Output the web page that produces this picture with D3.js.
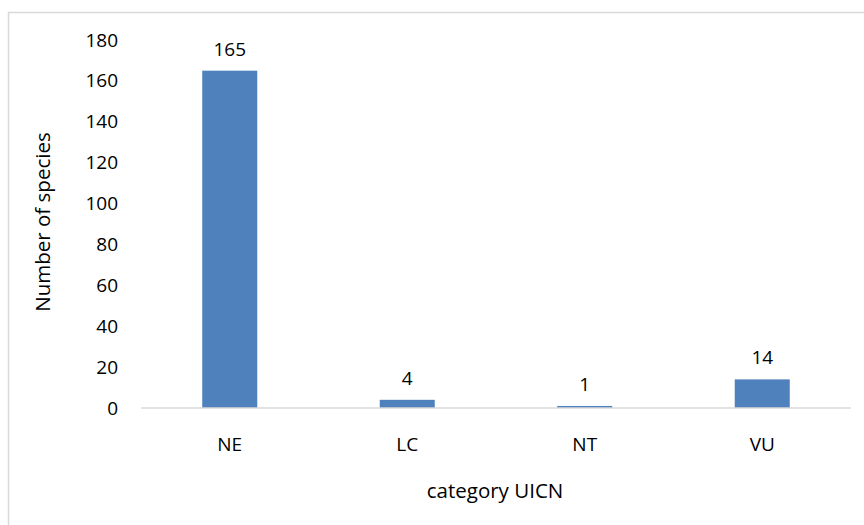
<!DOCTYPE html>
<html>
<head>
<meta charset="utf-8">
<script src="https://cdn.jsdelivr.net/npm/d3@7"></script>
<style>
  html, body { margin: 0; padding: 0; background: #fff; }
  svg { display: block; }
  text { font-family: "Open Sans", "Liberation Sans", sans-serif; fill: #000; }
</style>
</head>
<body>
<svg id="chart" width="864" height="525"></svg>
<script>
const categories = ["NE", "LC", "NT", "VU"];
const values = [165, 4, 1, 14];
const yTicks = [0, 20, 40, 60, 80, 100, 120, 140, 160, 180];
const xTitle = "category UICN";
const yTitle = "Number of species";

const svg = d3.select("#chart");
const W = 864, H = 525;
const plot = { left: 141, right: 851, top: 40, bottom: 408 };

// chart border
svg.append("rect")
  .attr("x", 8.5).attr("y", 12.5)
  .attr("width", W + 10).attr("height", H + 10)
  .attr("fill", "#fff").attr("stroke", "#d9d9d9").attr("stroke-width", 1.5);

const x = d3.scaleBand().domain(categories).range([plot.left, plot.right])
  .paddingInner(0.69).paddingOuter(0.345);
const y = d3.scaleLinear().domain([0, 180]).range([plot.bottom, plot.top]);

// y axis labels
const yAxis = d3.axisLeft(y).tickValues(yTicks).tickSize(0).tickPadding(0);
const gy = svg.append("g").attr("transform", `translate(118,0)`).call(yAxis);
gy.select(".domain").remove();
gy.selectAll("text").style("font-size", "19px").attr("font-family", null).attr("fill", "#000").attr("x", 0);

// bars
svg.append("g").selectAll("rect").data(values).join("rect")
  .attr("x", (d, i) => x(categories[i]))
  .attr("y", d => y(d))
  .attr("width", x.bandwidth())
  .attr("height", d => y(0) - y(d))
  .attr("fill", "#4f81bd");

// baseline
const xAxis = d3.axisBottom(x).tickSize(0).tickPadding(0);
const gx = svg.append("g").attr("transform", `translate(0,${plot.bottom})`).call(xAxis);
gx.select(".domain").attr("stroke", "#d9d9d9").attr("stroke-width", 1.5)
  .attr("d", `M${plot.left},0H${plot.right}`);
gx.selectAll("text").style("font-size", "19px").attr("font-family", null).attr("fill", "#000")
  .attr("dy", null).attr("y", 43);

// data labels
svg.append("g").selectAll("text").data(values).join("text")
  .attr("x", (d, i) => x(categories[i]) + x.bandwidth() / 2)
  .attr("y", d => y(d) - 15)
  .attr("text-anchor", "middle")
  .style("font-size", "19px")
  .text(d => d);

// axis titles
svg.append("text")
  .attr("x", (plot.left + plot.right) / 2 - 1).attr("y", 498)
  .attr("text-anchor", "middle").style("font-size", "20.5px")
  .text(xTitle);

svg.append("text")
  .attr("transform", `translate(50,${(plot.top + plot.bottom) / 2 - 2}) rotate(-90)`)
  .attr("text-anchor", "middle").style("font-size", "20.5px")
  .text(yTitle);
</script>
</body>
</html>
